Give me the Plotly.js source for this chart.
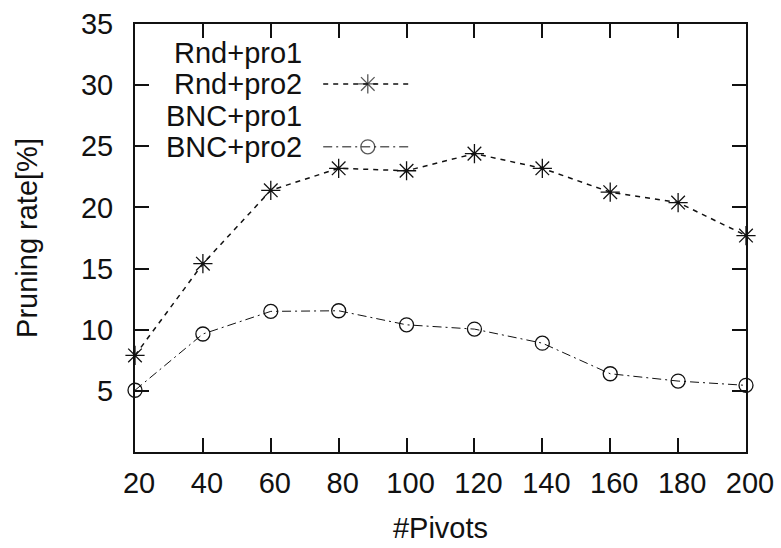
<!DOCTYPE html>
<html>
<head>
<meta charset="utf-8">
<script src="https://cdn.plot.ly/plotly-3.0.1.min.js"></script>
<style>html,body{margin:0;padding:0;background:#fff;}#chart{width:781px;height:548px;}</style>
</head>
<body>
<div id="chart"></div>
<script>
// ---- data ----
const pivots = [20, 40, 60, 80, 100, 120, 140, 160, 180, 200];
const rndPro1 = [];   // listed in the key only, no visible points in the figure
const rndPro2 = [7.9, 15.4, 21.4, 23.2, 23.0, 24.4, 23.2, 21.25, 20.4, 17.7];
const bncPro1 = [];   // listed in the key only, no visible points in the figure
const bncPro2 = [5.05, 9.65, 11.5, 11.55, 10.4, 10.05, 8.9, 6.4, 5.8, 5.45];
const seriesNames = ["Rnd+pro1", "Rnd+pro2", "BNC+pro1", "BNC+pro2"];
const xTicks = [20, 40, 60, 80, 100, 120, 140, 160, 180, 200];
const yTicks = [5, 10, 15, 20, 25, 30, 35];

const FONT = "Liberation Sans, Arial, Helvetica, sans-serif";
const INK = "#111";
const FS = 29;

const styles = {
  "Rnd+pro1": {dash: "solid", symbol: "cross-thin-open", width: 1.5, size: 16},
  "Rnd+pro2": {dash: "5px,5px", symbol: "asterisk-open", width: 1.5, size: 16},
  "BNC+pro1": {dash: "solid", symbol: "square-open", width: 1, size: 14},
  "BNC+pro2": {dash: "9px,4px,2px,4px", symbol: "circle-open", width: 1, size: 14}
};
const values = {"Rnd+pro1": rndPro1, "Rnd+pro2": rndPro2, "BNC+pro1": bncPro1, "BNC+pro2": bncPro2};

const traces = [];
seriesNames.forEach(name => {
  const st = styles[name];
  const ys = values[name];
  traces.push({
    x: pivots.slice(0, ys.length), y: ys, name: name, type: "scatter", mode: "lines+markers",
    showlegend: false, cliponaxis: false,
    line: {color: INK, width: st.width, dash: st.dash},
    marker: {symbol: st.symbol, size: st.size, color: INK, line: {color: INK, width: 1.3}}
  });
});

// gnuplot-style key: text right-aligned, sample to the right of it
const keyRows = [0.932, 0.860, 0.785, 0.713];
const keyTextX = 0.276;
const keySample = [0.308, 0.381, 0.452];
const annotations = [];
seriesNames.forEach((name, i) => {
  annotations.push({xref: "paper", yref: "paper", x: keyTextX, y: keyRows[i],
    xanchor: "right", yanchor: "middle", text: name, showarrow: false,
    font: {family: FONT, size: FS, color: INK}});
  if (values[name].length) {
    const st = styles[name];
    traces.push({
      x: keySample, y: [keyRows[i], keyRows[i], keyRows[i]], xaxis: "x2", yaxis: "y2",
      type: "scatter", mode: "lines+markers", showlegend: false, hoverinfo: "skip",
      line: {color: INK, width: st.width, dash: st.dash},
      marker: {symbol: st.symbol, size: [0, st.size, 0], color: INK, line: {color: INK, width: 1.3}}
    });
  }
});

const layout = {
  width: 781, height: 548,
  margin: {l: 135, r: 35, t: 24, b: 96},
  paper_bgcolor: "#fff", plot_bgcolor: "#fff",
  font: {family: FONT, size: FS, color: INK},
  showlegend: false,
  xaxis: {
    range: [20, 200], tickvals: xTicks, ticktext: xTicks.map(String),
    showline: true, linewidth: 2, linecolor: INK, mirror: "ticks",
    ticks: "inside", ticklen: 14, tickwidth: 2, tickcolor: INK,
    showgrid: false, zeroline: false, ticklabelstandoff: 4, ticklabelshift: 4,
    tickfont: {family: FONT, size: FS, color: INK},
    title: {text: "#Pivots", font: {family: FONT, size: FS, color: INK}, standoff: 20}
  },
  yaxis: {
    range: [0, 35], tickvals: yTicks, ticktext: yTicks.map(String),
    showline: true, linewidth: 2, linecolor: INK, mirror: "ticks",
    ticks: "inside", ticklen: 14, tickwidth: 2, tickcolor: INK,
    showgrid: false, zeroline: false, ticklabelstandoff: 14,
    tickfont: {family: FONT, size: FS, color: INK},
    title: {text: "Pruning rate[%]", font: {family: FONT, size: FS, color: INK}, standoff: 35}
  },
  xaxis2: {overlaying: "x", range: [0, 1], visible: false, fixedrange: true},
  yaxis2: {overlaying: "y", range: [0, 1], visible: false, fixedrange: true},
  annotations: annotations
};

Plotly.newPlot("chart", traces, layout, {staticPlot: true, displayModeBar: false});
</script>
</body>
</html>
